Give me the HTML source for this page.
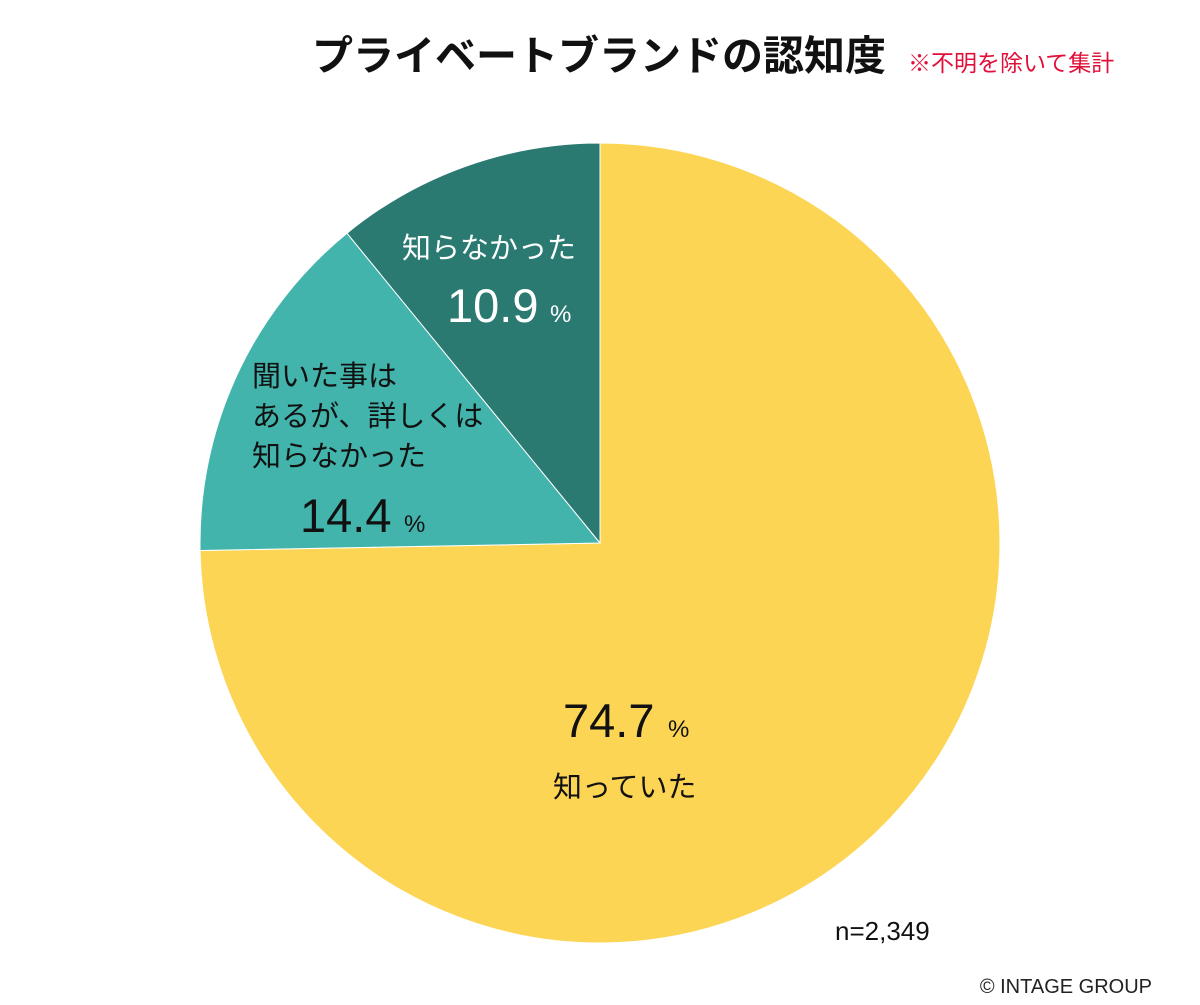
<!DOCTYPE html>
<html><head><meta charset="utf-8">
<style>
html,body{margin:0;padding:0;background:#fff;}
body{width:1200px;height:1000px;overflow:hidden;font-family:"Liberation Sans","Noto Sans CJK JP",sans-serif;}
</style></head>
<body>
<svg id="chart" width="1200" height="1000" viewBox="0 0 1200 1000">
  <text x="599" y="70" text-anchor="middle" font-size="41" font-weight="bold" fill="#111" font-family="'Liberation Sans','Noto Sans CJK JP',sans-serif">プライベートブランドの認知度</text>
  <text x="908" y="71" font-size="23" fill="#e0103a" font-family="'Liberation Sans','Noto Sans CJK JP',sans-serif">※不明を除いて集計</text>
  <g id="slices"></g>
  <g id="labels" font-family="'Liberation Sans','Noto Sans CJK JP',sans-serif"></g>
  <text x="835" y="940" font-size="26" fill="#111">n=2,349</text>
  <text x="1152" y="993" text-anchor="end" font-size="20" fill="#222">© INTAGE GROUP</text>
</svg>
<script>
const categories = ["知っていた", "聞いた事はあるが、詳しくは知らなかった", "知らなかった"];
const values = [74.7, 14.4, 10.9];
const valueLabels = ["74.7", "14.4", "10.9"];
const colors = ["#fcd555", "#42b4ac", "#2b7a72"];
const cx = 600, cy = 543, r = 400;
const NS = "http://www.w3.org/2000/svg";
const total = values.reduce((a,b)=>a+b,0);
function pt(frac, rad){ const a = frac*2*Math.PI; return [cx + rad*Math.sin(a), cy - rad*Math.cos(a)]; }
let acc = 0;
const g = document.getElementById("slices");
values.forEach((v,i)=>{
  const s = acc/total, e = (acc+v)/total; acc += v;
  const [x1,y1] = pt(s,r), [x2,y2] = pt(e,r);
  const large = (e-s) > 0.5 ? 1 : 0;
  const p = document.createElementNS(NS,"path");
  p.setAttribute("d",`M${cx},${cy} L${x1},${y1} A${r},${r} 0 ${large} 1 ${x2},${y2} Z`);
  p.setAttribute("fill",colors[i]);
  p.setAttribute("stroke","#fff");
  p.setAttribute("stroke-width","1");
  
  
  g.appendChild(p);
});
const L = document.getElementById("labels");
function txt(x,y,str,size,fill,anchor,name){
  const t = document.createElementNS(NS,"text");
  t.setAttribute("x",x); t.setAttribute("y",y);
  t.setAttribute("font-size",size); t.setAttribute("fill",fill);
  t.setAttribute("text-anchor",anchor||"start");
  t.textContent = str;
  
  
  L.appendChild(t); return t;
}
txt(563,737,valueLabels[0],47,"#111","start","value-label-known");
txt(668,737,"%",24,"#111","start","percent-sign");
txt(553,797,"知っていた",29,"#111","start","category-label-known");
txt(252,386,"聞いた事は",29,"#111","start","category-label-heard");
txt(252,426,"あるが、詳しくは",29,"#111","start","category-label-heard");
txt(252,466,"知らなかった",29,"#111","start","category-label-heard");
txt(300,532,valueLabels[1],47,"#111","start","value-label-heard");
txt(404,532,"%",24,"#111","start","percent-sign");
txt(402,258,"知らなかった",29,"#fff","start","category-label-unknown");
txt(447,322,valueLabels[2],47,"#fff","start","value-label-unknown");
txt(550,322,"%",24,"#fff","start","percent-sign");
</script>
</body></html>
